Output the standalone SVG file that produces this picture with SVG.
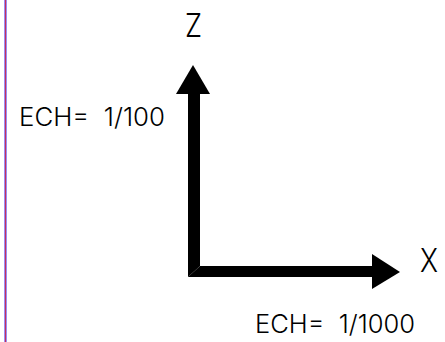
<svg xmlns="http://www.w3.org/2000/svg" width="445" height="342" viewBox="0 0 445 342">
<style>
.lbl{font-family:Inter,"Liberation Sans",Arial,sans-serif;fill:#000;font-weight:300}
.ax{fill:#000}
</style>
<rect width="445" height="342" fill="#fff"/>
<g id="frame">
<rect x="4" y="0" width="3" height="342" fill="#9a8cf2"/>
<line x1="5.5" y1="0" x2="5.5" y2="342" stroke="#c2305e" stroke-width="1"/>
</g>
<g id="connectors">
<polygon class="ax" points="188,94 200,94 200,266 188,277"/>
<polygon class="ax" points="188,277 200,266 372,266 372,277"/>
<polygon class="ax" points="193,65 210,94 176,94"/>
<polygon class="ax" points="400,272 372,254 372,289"/>
</g>
<g id="z-label"><text class="lbl" x="185" y="37" font-size="33" textLength="17" lengthAdjust="spacingAndGlyphs">Z</text></g>
<g id="x-label"><text class="lbl" x="420" y="272" font-size="33" textLength="18" lengthAdjust="spacingAndGlyphs">X</text></g>
<g id="ech-z"><text class="lbl" x="19" y="126" font-size="25" textLength="146" lengthAdjust="spacingAndGlyphs" xml:space="preserve">ECH=  1/100</text></g>
<g id="ech-x"><text class="lbl" x="255" y="333" font-size="25" textLength="160" lengthAdjust="spacingAndGlyphs" xml:space="preserve">ECH=  1/1000</text></g>
</svg>
